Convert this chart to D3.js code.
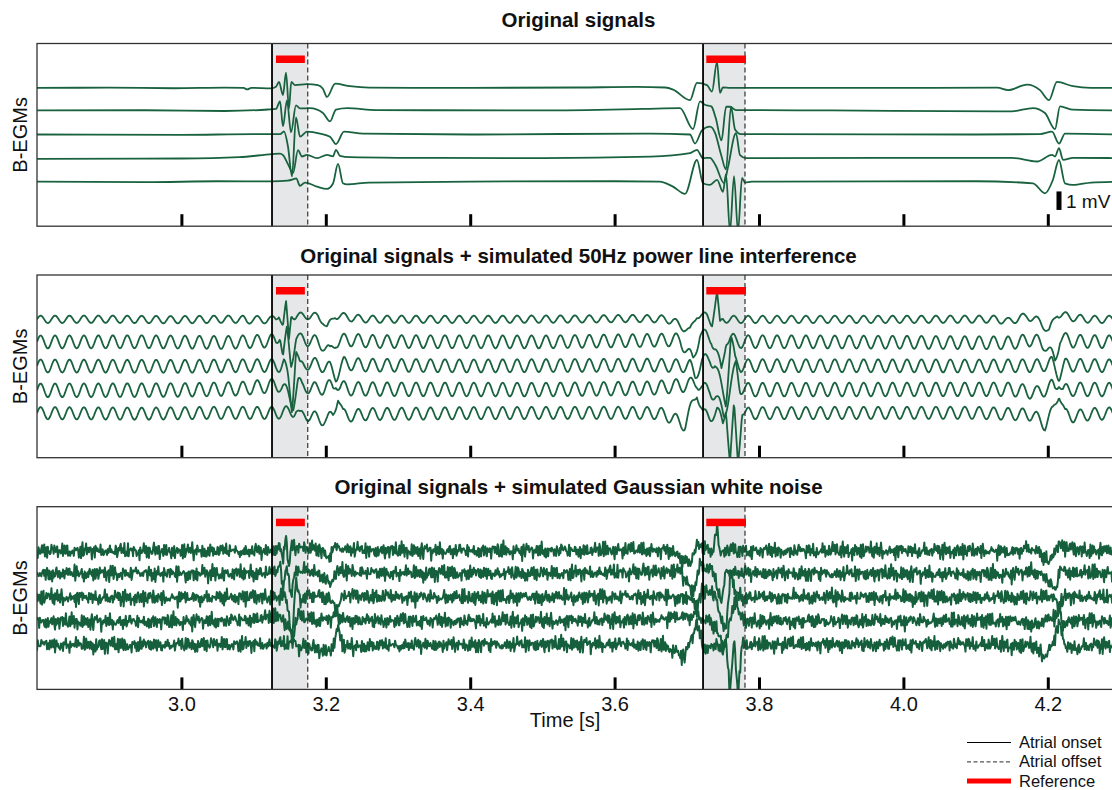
<!DOCTYPE html>
<html>
<head>
<meta charset="utf-8">
<script src="https://cdn.jsdelivr.net/npm/d3@7"></script>
<style>
  body { margin: 0; background: #fff; }
  svg { display: block; font-family: Arial, "Liberation Sans", Helvetica, sans-serif; }
</style>
</head>
<body>
<svg id="chart" width="1112" height="790"></svg>
<script>
// ---- data ----
const TIME_RANGE = [2.8, 4.3];
const X_TICKS = [3.0, 3.2, 3.4, 3.6, 3.8, 4.0, 4.2];
const X_TICK_LABELS = ["3.0", "3.2", "3.4", "3.6", "3.8", "4.0", "4.2"];
const PANEL_TITLES = [
  "Original signals",
  "Original signals + simulated 50Hz power line interference",
  "Original signals + simulated Gaussian white noise"
];
const MV_RANGE = [-7.48, 2.4];             // visible mV span of one panel
const CHANNEL_OFFSETS = [0, -1.22, -2.52, -3.8, -5.07];
const ATRIAL_ONSETS = [3.1255, 3.7225];
const ATRIAL_OFFSETS = [3.175, 3.7806];
const REFERENCE_START = [3.131, 3.727];
const REFERENCE_END = [3.171, 3.782];
const LEGEND_LABELS = ["Atrial onset", "Atrial offset", "Reference"];
const SCALE_BAR_MV = [-6.6, -5.6];
const SCALE_BAR_T = 4.2155;

// bipolar EGM traces, [time s, mV]
const CH0 = [
  [2.800, 0.00], [2.900, 0.01], [2.990, -0.02], [3.060, 0.01], [3.086, 0.00], [3.091, -0.08],
  [3.097, 0.00], [3.124, -0.03], [3.131, 0.06], [3.1352, 0.32], [3.1407, -0.39], [3.1449, 0.83],
  [3.1490, -1.12], [3.1522, 0.32], [3.1573, 0.15], [3.1740, 0.20], [3.1890, 0.15], [3.1960, -0.05],
  [3.2017, -0.49], [3.2130, 0.23], [3.2335, 0.09], [3.2600, 0.01], [3.4000, 0.00], [3.5500, 0.02],
  [3.6300, 0.05], [3.6700, 0.02], [3.6810, -0.09], [3.7044, -0.66], [3.7141, 0.27], [3.7280, 0.15],
  [3.7349, -0.20], [3.7418, 1.41], [3.7460, -0.27], [3.7500, 0.03], [3.7600, 0.00], [3.9500, 0.00],
  [4.1300, 0.01], [4.1449, -0.12], [4.1712, 0.18], [4.1892, -0.12], [4.2017, -0.66], [4.2127, 0.32],
  [4.2349, 0.09], [4.2600, 0.00], [4.3000, 0.00]
];
const CH1 = [
  [2.800, 0.00], [2.950, 0.01], [3.060, -0.03], [3.120, 0.05], [3.1310, 0.08], [3.1366, 0.49],
  [3.1407, -0.86], [3.1462, 0.54], [3.1518, -1.19], [3.1587, 0.27], [3.1643, 0.11], [3.1780, 0.12],
  [3.1961, -0.14], [3.2058, -0.59], [3.2141, 0.04], [3.2294, 0.12], [3.2700, 0.02], [3.5000, 0.00],
  [3.6400, 0.08], [3.6906, 0.12], [3.7086, -1.01], [3.7183, 0.49], [3.7250, 0.31], [3.7340, 0.22],
  [3.7400, -0.40], [3.7480, -1.62], [3.7545, 0.20], [3.7600, 0.20], [3.7680, 0.02], [3.9000, 0.00],
  [4.1500, -0.05], [4.1795, 0.13], [4.1961, -0.14], [4.2100, -1.01], [4.2169, 0.22], [4.2349, 0.04],
  [4.3000, 0.00]
];
const CH2 = [
  [2.800, 0.00], [3.000, -0.02], [3.100, 0.02], [3.1366, 0.02], [3.1421, 0.16], [3.1476, -0.65],
  [3.1532, -2.27], [3.1587, 0.92], [3.1643, -0.12], [3.1740, 0.15], [3.1920, 0.05], [3.2058, -0.12],
  [3.2141, -0.52], [3.2252, 0.15], [3.2515, 0.05], [3.4000, 0.00], [3.6500, 0.05], [3.7044, 0.00],
  [3.7114, -0.49], [3.7210, 0.22], [3.7319, 0.42], [3.7390, 0.10], [3.7474, -1.08], [3.7543, -1.89],
  [3.7612, 1.50], [3.7668, 0.27], [3.7750, 0.02], [4.1000, 0.00], [4.1892, 0.02], [4.2058, 0.15],
  [4.2155, -0.49], [4.2238, 0.05], [4.3000, 0.00]
];
const CH3 = [
  [2.800, -0.04], [3.000, -0.02], [3.080, 0.05], [3.1255, 0.22], [3.1366, 0.25], [3.1407, 0.16],
  [3.1476, -0.32], [3.1546, -0.81], [3.1615, 0.43], [3.1670, 0.09], [3.1740, 0.18], [3.1878, 0.00],
  [3.2017, 0.18], [3.2100, 0.10], [3.2141, 0.45], [3.2197, 0.12], [3.2335, 0.05], [3.3000, 0.02],
  [3.5000, 0.00], [3.6500, 0.08], [3.7044, 0.27], [3.7141, 0.45], [3.7224, 0.00], [3.7320, 0.02],
  [3.7400, -0.40], [3.7515, -1.35], [3.7570, -0.50], [3.7681, 1.35], [3.7737, 0.16], [3.7820, 0.00],
  [4.1500, 0.02], [4.1850, -0.18], [4.2058, 0.18], [4.2100, 0.09], [4.2155, 0.54], [4.2211, -0.09],
  [4.2349, 0.02], [4.3000, 0.00]
];
const CH4 = [
  [2.800, 0.00], [2.950, -0.03], [3.050, 0.02], [3.1255, 0.01], [3.1470, 0.05], [3.1546, 0.12],
  [3.1590, 0.18], [3.1643, -0.23], [3.1712, -0.05], [3.1878, -0.27], [3.2017, -0.39], [3.2100, -0.10],
  [3.2169, 0.96], [3.2238, -0.09], [3.2294, -0.15], [3.2600, -0.05], [3.4000, 0.00], [3.6000, 0.02],
  [3.6620, 0.00], [3.6809, -0.27], [3.6975, -0.66], [3.7141, 1.17], [3.7224, -0.09], [3.7319, -0.18],
  [3.7420, 0.10], [3.7500, -0.55], [3.7543, 0.40], [3.7598, -2.70], [3.7654, 0.30], [3.7709, -2.70],
  [3.7765, 0.20], [3.7806, -0.05], [3.7900, 0.00], [4.1000, 0.02], [4.1795, -0.09], [4.1961, -0.63],
  [4.2070, 0.09], [4.2155, 1.17], [4.2238, -0.09], [4.2349, -0.18], [4.2600, -0.05], [4.3000, 0.00]
];
const CHANNELS = [CH0, CH1, CH2, CH3, CH4];

// one 20 ms cycle of the 50 Hz interference at 1 kHz, and its size per channel (mV)
const SAMPLE_RATE = 1000;
const INTERFERENCE_CYCLE = [0, 0.309, 0.588, 0.809, 0.951, 1, 0.951, 0.809, 0.588, 0.309,
  0, -0.309, -0.588, -0.809, -0.951, -1, -0.951, -0.809, -0.588, -0.309];
const INTERFERENCE_AMP = [0.2, 0.35, 0.35, 0.37, 0.33];
const INTERFERENCE_PHASE = 0;

// white noise sample tables (std units) and their size in mV
const NOISE_A = [0.3, -1.2, 0.8, 1.9, -0.4, -2.1, 0.6, 1.1, -0.9, 0.2, 2.3, -1.5, -0.3, 0.9, -0.7,
  1.4, -2.4, 0.5, 0.1, -1.0, 1.7, -0.6, 0.4, -1.8, 1.2, 0.7, -0.2, -1.3, 2.0, -0.8, 0.0, 1.5, -1.6,
  0.6, -0.5, 1.0, -2.2, 0.8, 1.3, -0.1, -1.1, 0.4, 2.1, -0.9, -0.4, 1.6, -1.9, 0.2, 0.9, -0.7, 1.1,
  -1.4, 0.5];
const NOISE_B = [-0.6, 1.3, -1.9, 0.4, 0.9, -0.2, -1.4, 2.2, -0.8, 0.1, 1.0, -2.0, 0.6, -0.3, 1.5,
  -1.1, 0.2, 1.8, -0.5, -1.7, 0.7, 0.3, -0.9, 2.4, -1.3, 0.0, 0.8, -0.4, -2.3, 1.2, 0.5, -1.0, 1.6,
  -0.1, -0.7, 1.9, -1.5, 0.4, 0.2, -1.2, 1.1, -0.6, 2.0, -1.8, 0.9, -0.3, 0.6];
const NOISE_MV = 0.12;

// ---- layout ----
const TRACE = "#19623f";
const LEFT = 37, RIGHT = 1120;
const PANEL_TOPS = [43.5, 275, 506.7];
const PANEL_H = 182.7;
const TITLE_GAP = [17, 12, 13];

const svg = d3.select("#chart");
const x = d3.scaleLinear().domain(TIME_RANGE).range([LEFT, RIGHT]);

const sampleIdx = d3.range(Math.round((TIME_RANGE[1] - TIME_RANGE[0]) * SAMPLE_RATE) + 1);
const sampleT = i => TIME_RANGE[0] + i / SAMPLE_RATE;

function baseScale(ch) {
  return d3.scaleLinear().domain(ch.map(d => d[0])).range(ch.map(d => d[1])).clamp(true);
}

function traceData(panel, c) {
  const ch = CHANNELS[c], off = CHANNEL_OFFSETS[c];
  if (panel === 0) return ch.map(d => [d[0], d[1] + off]);
  const base = baseScale(ch);
  if (panel === 1) {
    return sampleIdx.map(i => [sampleT(i),
      base(sampleT(i)) + off + INTERFERENCE_AMP[c] * INTERFERENCE_CYCLE[(i + INTERFERENCE_PHASE) % INTERFERENCE_CYCLE.length]]);
  }
  return sampleIdx.map(i => [sampleT(i),
    base(sampleT(i)) + off + NOISE_MV * (NOISE_A[(i + 11 * c) % NOISE_A.length] + NOISE_B[(2 * i + 7 * c) % NOISE_B.length])]);
}

PANEL_TOPS.forEach((top, p) => {
  const y = d3.scaleLinear().domain(MV_RANGE).range([top + PANEL_H, top]);
  const g = svg.append("g");

  g.append("clipPath").attr("id", "clip" + p)
    .append("rect").attr("x", LEFT).attr("y", top).attr("width", RIGHT - LEFT).attr("height", PANEL_H);

  // shaded atrial activations
  ATRIAL_ONSETS.forEach((t0, k) => {
    g.append("rect")
      .attr("x", x(t0)).attr("y", top)
      .attr("width", x(ATRIAL_OFFSETS[k]) - x(t0)).attr("height", PANEL_H)
      .attr("fill", "#e6e7e9");
  });

  const line = d3.line().x(d => x(d[0])).y(d => y(d[1]));
  if (p === 0) line.curve(d3.curveMonotoneX);

  const traces = g.append("g").attr("clip-path", `url(#clip${p})`);
  CHANNELS.forEach((ch, c) => {
    traces.append("path")
      .datum(traceData(p, c))
      .attr("fill", "none")
      .attr("stroke", p === 2 ? "#155f3c" : TRACE)
      .attr("stroke-width", p === 2 ? 2 : 1.8)
      .attr("stroke-linejoin", "round")
      .attr("d", line);
  });

  ATRIAL_ONSETS.forEach(t => {
    g.append("line").attr("x1", x(t)).attr("x2", x(t)).attr("y1", top).attr("y2", top + PANEL_H)
      .attr("stroke", "#000").attr("stroke-width", 1.8);
  });
  ATRIAL_OFFSETS.forEach(t => {
    g.append("line").attr("x1", x(t)).attr("x2", x(t)).attr("y1", top).attr("y2", top + PANEL_H)
      .attr("stroke", "#333").attr("stroke-width", 1.2).attr("stroke-dasharray", "5,3");
  });

  REFERENCE_START.forEach((t0, k) => {
    g.append("rect")
      .attr("x", x(t0)).attr("y", top + 12)
      .attr("width", x(REFERENCE_END[k]) - x(t0)).attr("height", 7.5)
      .attr("fill", "#ff0000");
  });

  // inward ticks, labels only on the last panel
  const axis = d3.axisBottom(x).tickValues(X_TICKS).tickSize(-12).tickPadding(7)
    .tickFormat((d, i) => p === 2 ? X_TICK_LABELS[i] : "");
  const ag = g.append("g").attr("transform", `translate(0,${top + PANEL_H})`).call(axis);
  ag.select(".domain").remove();
  ag.selectAll(".tick line").attr("stroke", "#000").attr("stroke-width", 3);
  ag.selectAll(".tick text").attr("fill", "#111").attr("font-size", 20).attr("font-family", null);

  g.append("rect").attr("x", LEFT).attr("y", top).attr("width", RIGHT - LEFT).attr("height", PANEL_H)
    .attr("fill", "none").attr("stroke", "#333").attr("stroke-width", 1.3);

  g.append("text")
    .attr("x", (LEFT + RIGHT) / 2).attr("y", top - TITLE_GAP[p])
    .attr("text-anchor", "middle").attr("font-weight", "bold").attr("font-size", 20.5).attr("fill", "#111")
    .text(PANEL_TITLES[p]);

  g.append("text")
    .attr("transform", `translate(26.5,${top + PANEL_H / 2}) rotate(-90)`)
    .attr("text-anchor", "middle").attr("font-size", 20).attr("fill", "#111")
    .text("B-EGMs");

  if (p === 0) {
    g.append("rect")
      .attr("x", x(SCALE_BAR_T) - 2.5).attr("y", y(SCALE_BAR_MV[1]))
      .attr("width", 5).attr("height", y(SCALE_BAR_MV[0]) - y(SCALE_BAR_MV[1]))
      .attr("fill", "#000");
    g.append("text")
      .attr("x", x(SCALE_BAR_T) + 7).attr("y", y(SCALE_BAR_MV[0]) - 2)
      .attr("font-size", 19).attr("fill", "#111").text("1 mV");
  }
});

svg.append("text")
  .attr("x", 565).attr("y", 727)
  .attr("text-anchor", "middle").attr("font-size", 20).attr("fill", "#111")
  .text("Time [s]");

// legend
const legend = svg.append("g").attr("transform", "translate(967,742.5)");
const legendStyles = [
  { stroke: "#000", width: 1.2, dash: null },
  { stroke: "#555", width: 1.2, dash: "4,2.5" },
  { stroke: "#ff0000", width: 5, dash: null }
];
LEGEND_LABELS.forEach((label, i) => {
  const row = legend.append("g").attr("transform", `translate(0,${i * 19.3})`);
  row.append("line").attr("x1", 0).attr("x2", 44).attr("y1", 0).attr("y2", 0)
    .attr("stroke", legendStyles[i].stroke).attr("stroke-width", legendStyles[i].width)
    .attr("stroke-dasharray", legendStyles[i].dash);
  row.append("text").attr("x", 52).attr("y", 0).attr("dy", "0.33em")
    .attr("font-size", 16.5).attr("fill", "#111").text(label);
});
</script>
</body>
</html>
